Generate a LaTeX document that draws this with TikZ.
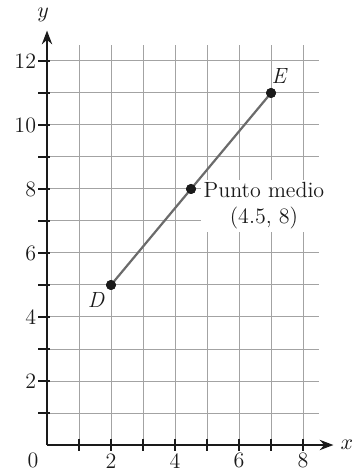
\documentclass[tikz,border=0pt]{standalone}
\usetikzlibrary{arrows.meta,positioning}
\definecolor{ink}{HTML}{1A1A1A}
\definecolor{gridC}{HTML}{A3A3A3}
\definecolor{segC}{HTML}{6B6B6B}
\tikzset{>={Stealth[length=2.4mm,width=1.8mm]},
  gridln/.style={gridC,line width=0.5pt},
  axis/.style={ink,line width=1.1pt},
  tick/.style={ink,line width=0.9pt},
  seg/.style={segC,line width=1.1pt},
  dot/.style={circle,fill=ink,inner sep=0pt,minimum size=5pt},
  num/.style={font=\fontsize{11}{13}\selectfont,text=ink,inner sep=0pt},
  ptlab/.style={font=\fontsize{11}{13}\selectfont\itshape,text=ink,inner sep=1pt},
  midlab/.style={font=\fontsize{11}{13}\selectfont,text=ink,align=center,fill=white,inner sep=1.5pt}}
\begin{document}
\begin{tikzpicture}[x=16pt,y=16pt]
\useasboundingbox (-1.469,-0.781) rectangle (9.625,13.906);
% grid
\foreach \i in {1,...,8} \draw[gridln] (\i,0) -- (\i,12.5);
\foreach \j in {1,...,12} \draw[gridln] (0,\j) -- (8.5,\j);
% axes
\coordinate (O) at (0,0);
\coordinate (xend) at (8.95,0);
\coordinate (yend) at (0,12.95);
\draw[axis,->] (O) -- (xend);
\draw[axis,->] (O) -- (yend);
\node[ptlab] (xlab) at (9.37,0) {$x$};
\node[ptlab] (ylab) at (-0.12,13.44) {$y$};
\foreach \i in {1,...,8} \draw[tick] (\i,0.2) -- (\i,-0.2);
\foreach \j in {1,...,12} \draw[tick] (-0.28,\j) -- (0.08,\j);
\foreach \i in {2,4,6,8} \node[num] (xt\i) at (\i,-0.49) {\i};
\foreach \j in {2,4,...,12} \node[num,anchor=east] (yt\j) at (-0.33,\j) {\j};
\node[num] (zero) at (-0.44,-0.49) {0};
% segment DE
\node[dot] (D) at (2,5) {};
\node[dot] (E) at (7,11) {};
\node[dot] (M) at (4.5,8) {};
\draw[seg] (D.center) -- (E.center);
\node[dot] at (D) {};
\node[dot] at (E) {};
\node[dot] at (M) {};
\node[ptlab] (Dl) at (1.53,4.53) {D};
\node[ptlab] (El) at (7.25,11.53) {E};
\node[midlab] (Ml) at (6.78,7.47) {Punto medio\\(4.5, 8)};
\end{tikzpicture}
\end{document}
